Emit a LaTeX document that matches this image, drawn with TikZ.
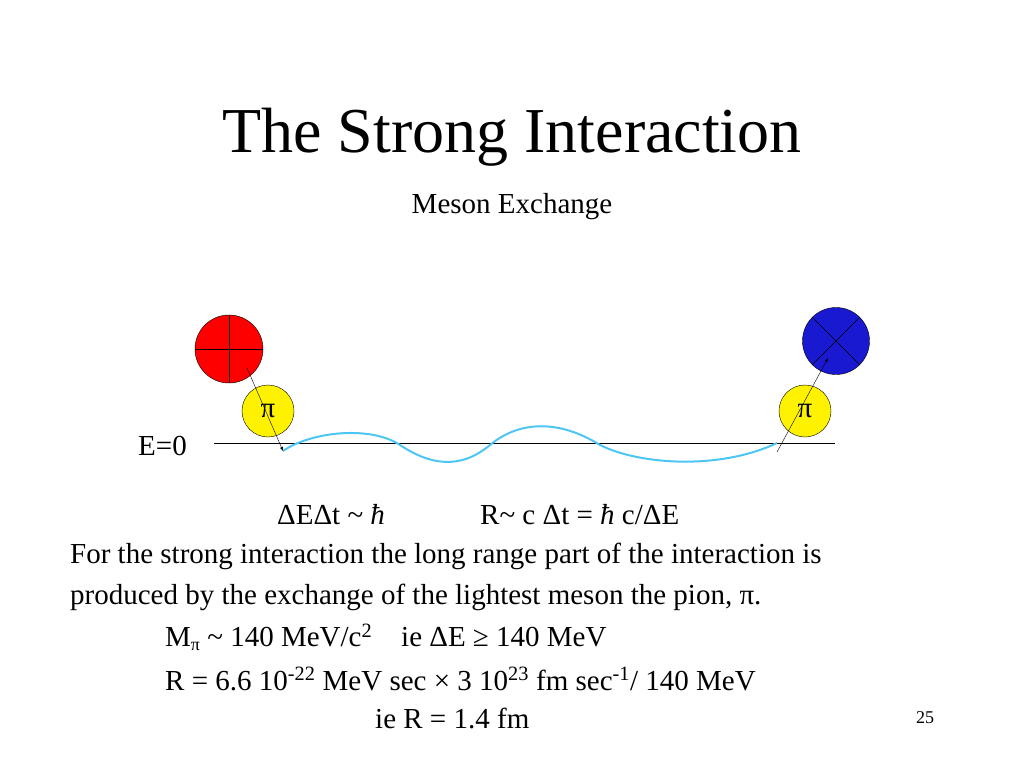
\documentclass[tikz,border=0pt]{standalone}
\usepackage{fontspec}
\setmainfont{Liberation Serif}
\begin{document}
\begin{tikzpicture}[x=1pt,y=-1pt,
  body/.style={font=\fontsize{29}{32}\selectfont,inner sep=0,anchor=west},
  ball/.style={circle,draw=black,minimum size=#1,inner sep=0}]
\useasboundingbox (0,0) rectangle (1024,768);
\node[font=\fontsize{64}{70}\selectfont,inner sep=0] (title) at (512,137) {The Strong Interaction};
\node[font=\fontsize{29}{32}\selectfont,inner sep=0] (sub) at (512,207) {Meson Exchange};
\node[ball=68pt,fill=red] (red) at (229,349) {};
\draw (red.north) -- (red.south) (red.west) -- (red.east);
\node[ball=67pt,fill=blue!80!black!90] (blue) at (836,341) {};
\draw (blue.north west) -- (blue.south east) (blue.north east) -- (blue.south west);
\node[ball=52pt,fill=yellow,font=\fontsize{29}{32}\selectfont] (y1) at (268,411) {π};
\node[ball=52pt,fill=yellow,font=\fontsize{29}{32}\selectfont] (y2) at (805,411) {π};
\node[body] (e0) at (138,446) {E=0};
\coordinate (l1) at (214,443); \coordinate (l2) at (835,443);
\draw (l1) -- (l2);
\coordinate (w0) at (283,451); \coordinate (w5) at (777,443);
\draw[cyan!70!white,line width=2pt] (w0) .. controls (310,432) and (370,425) .. (400,445)
  .. controls (430,465) and (460,470) .. (490,445)
  .. controls (520,420) and (560,420) .. (600,445)
  .. controls (640,465) and (720,470) .. (w5);
\coordinate (a1) at (247,368); \coordinate (a2) at (828,358); \coordinate (a3) at (777,452);
\draw[-latex] (a1) -- (w0);
\draw[-latex] (a3) -- (a2);
\node[body] (f1) at (277,515) {ΔEΔt \~{} \textit{ħ}};
\node[body] (f2) at (480,515) {R\~{} c Δt = \textit{ħ} c/ΔE};
\node[body] (t1) at (70,556) {For the strong interaction the long range part of the interaction is};
\node[body] (t2) at (70,597) {produced by the exchange of the lightest meson the pion, π.};
\node[body] (t3) at (165,637) {M\raisebox{-0.3ex}{\fontsize{18}{20}\selectfont π} \~{} 140 MeV/c\textsuperscript{2}\quad ie ΔE ≥ 140 MeV};
\node[body] (t4) at (165,679) {R = 6.6 10\textsuperscript{-22} MeV sec × 3 10\textsuperscript{23} fm sec\textsuperscript{-1}/ 140 MeV};
\node[body] (t5) at (375,718) {ie R = 1.4 fm};
\node[font=\fontsize{18}{20}\selectfont,inner sep=0] (pg) at (925,718) {25};
\end{tikzpicture}
\end{document}
